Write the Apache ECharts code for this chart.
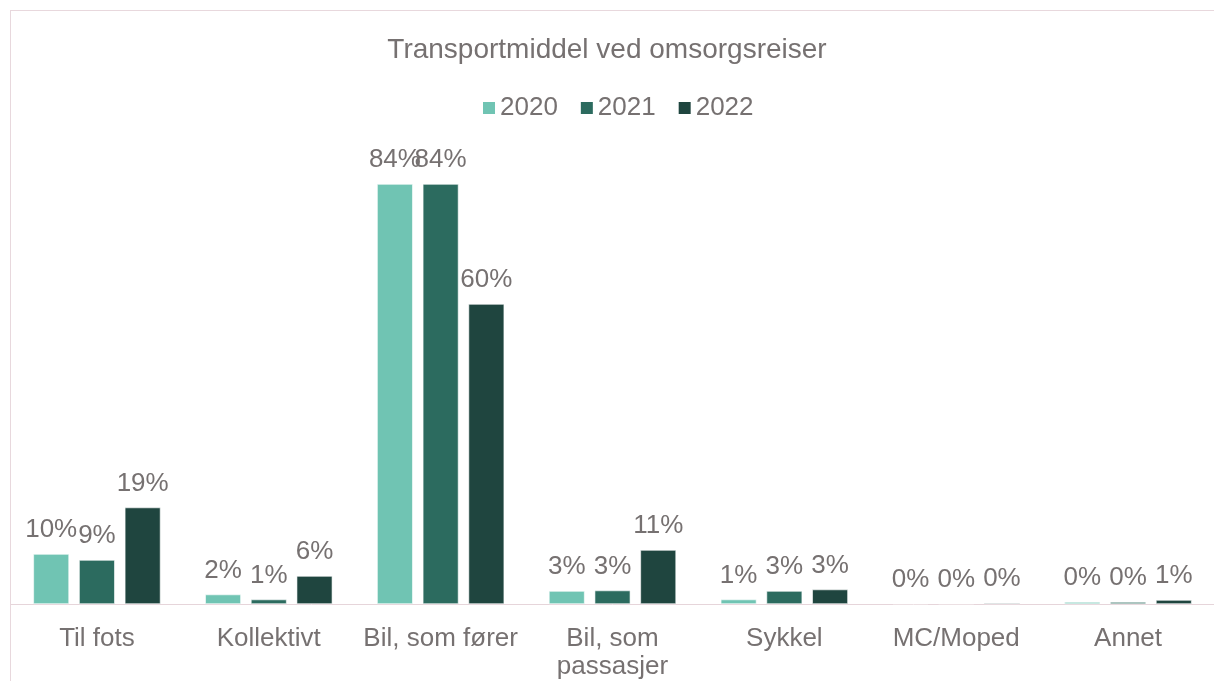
<!DOCTYPE html>
<html>
<head>
<meta charset="utf-8">
<script src="https://cdn.jsdelivr.net/npm/echarts@6/dist/echarts.min.js"></script>
<style>
  html, body { margin: 0; padding: 0; background: #fff; overflow: hidden; }
  #chart { position: absolute; left: 0; top: 0; width: 1214px; height: 681px; }
  #frame { position: absolute; left: 10px; top: 10px; width: 1220px; height: 700px; border: 1px solid #e8d8dd; }
</style>
</head>
<body>
<div id="frame"></div>
<div id="chart"></div>
<script>
// kategorier og verdier (andel i prosent)
var categories = ["Til fots", "Kollektivt", "Bil, som fører", "Bil, som\npassasjer", "Sykkel", "MC/Moped", "Annet"];
var years = ["2020", "2021", "2022"];
var v2020 = [10.0, 1.9, 84.0, 2.6, 0.9, 0.1, 0.4];
var v2021 = [8.8, 0.9, 84.0, 2.7, 2.6, 0.1, 0.4];
var v2022 = [19.3, 5.6, 60.0, 10.8, 2.9, 0.2, 0.8];
var colors = ["#70c4b3", "#2c6b5f", "#1f453f"];

var textColor = "#767171";
var font = "Liberation Sans, Arial, sans-serif";

function makeSeries(name, data, color) {
  return {
    name: name,
    type: "bar",
    data: data,
    barGap: "28%",
    barCategoryGap: "26%",
    itemStyle: { color: color, borderColor: "#fff", borderWidth: 0.6 },
    label: {
      show: true,
      position: "top",
      distance: 11,
      color: textColor,
      fontFamily: font,
      fontSize: 26,
      formatter: function (p) { return Math.round(p.value) + "%"; }
    }
  };
}

var chart = echarts.init(document.getElementById("chart"));
chart.setOption({
  animation: false,
  textStyle: { fontFamily: font },
  title: {
    text: "Transportmiddel ved omsorgsreiser",
    left: "center",
    top: 31,
    textStyle: { color: textColor, fontSize: 28, fontWeight: "normal", fontFamily: font }
  },
  legend: {
    data: years,
    top: 90,
    left: 476,
    itemWidth: 14,
    itemHeight: 14,
    itemGap: 21,
    icon: "rect",
    textStyle: { color: textColor, fontSize: 26, fontFamily: font, padding: [0, 0, 0, -1] }
  },
  grid: { left: 11, right: -1, top: 104, bottom: 76 },
  xAxis: {
    type: "category",
    data: categories,
    axisLine: { lineStyle: { color: "#e6d5da", width: 1 } },
    axisTick: { show: false },
    axisLabel: { color: textColor, fontSize: 26, fontFamily: font, margin: 21, lineHeight: 28, interval: 0 }
  },
  yAxis: {
    type: "value",
    min: 0,
    max: 100,
    show: false
  },
  series: [
    makeSeries(years[0], v2020, colors[0]),
    makeSeries(years[1], v2021, colors[1]),
    makeSeries(years[2], v2022, colors[2])
  ]
});
</script>
</body>
</html>
